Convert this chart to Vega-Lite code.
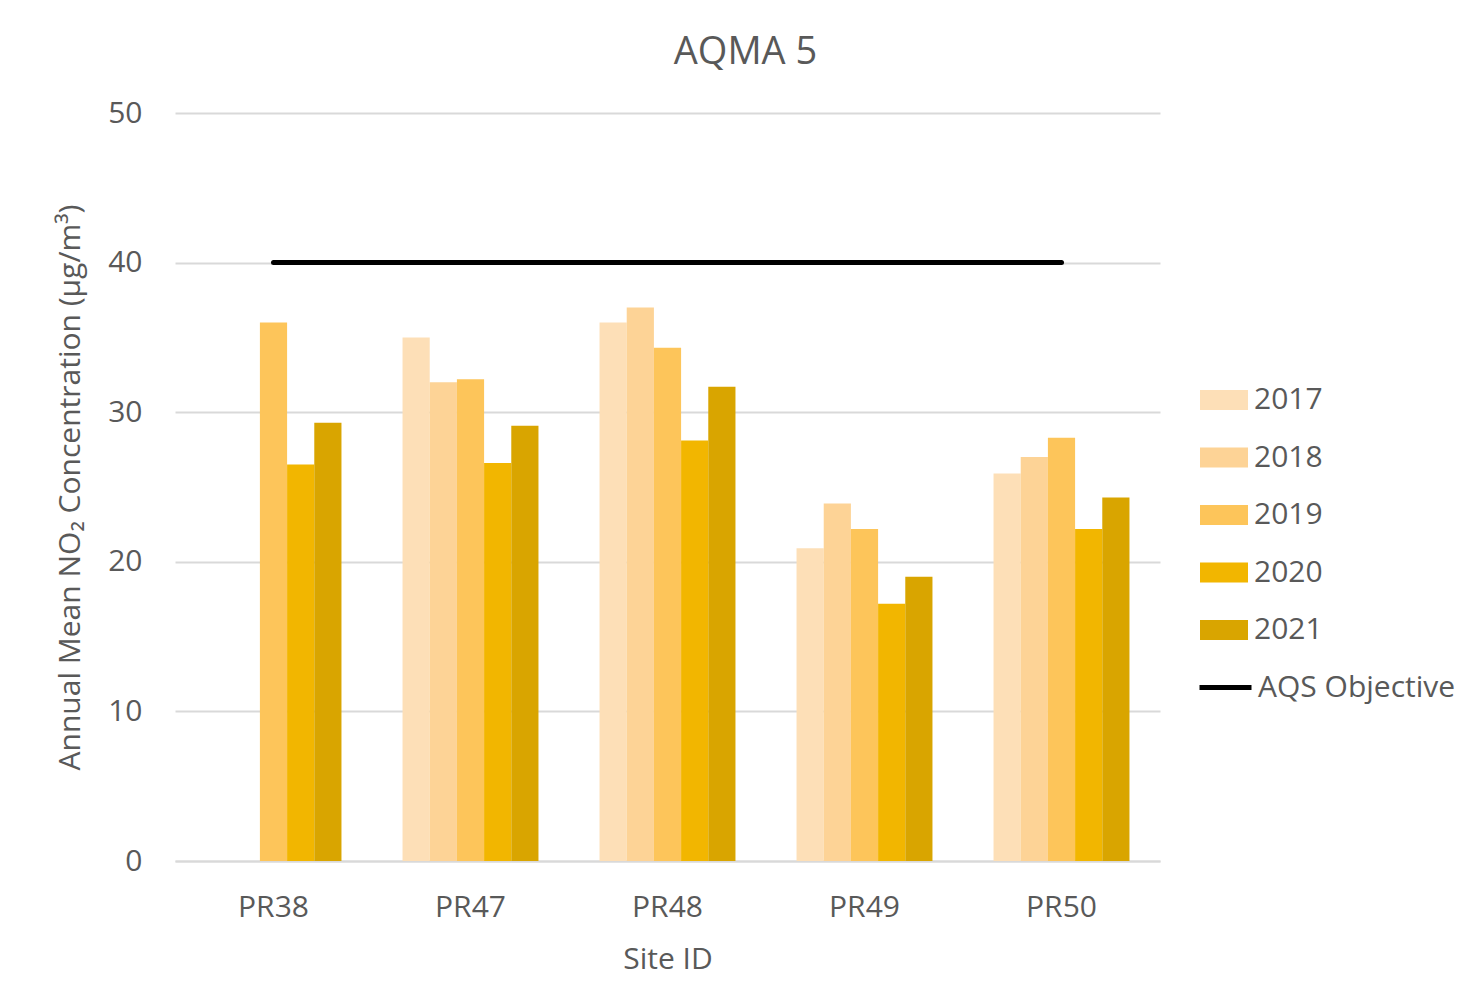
{
  "$schema": "https://vega.github.io/schema/vega-lite/v6.json",
  "width": 985,
  "height": 748,
  "autosize": {"type": "pad"},
  "padding": {"left": 55, "top": 34, "right": 0, "bottom": 20},
  "background": "white",
  "title": {
    "text": "AQMA 5",
    "fontSize": 38,
    "font": "Open Sans",
    "fontWeight": "normal",
    "color": "#595959",
    "anchor": "middle",
    "frame": "group",
    "dx": 78,
    "offset": 26
  },
  "config": {
    "font": "Open Sans",
    "view": {"stroke": null},
    "axis": {
      "labelFont": "Open Sans",
      "titleFont": "Open Sans",
      "labelFontSize": 30,
      "titleFontSize": 30,
      "labelColor": "#595959",
      "titleColor": "#595959",
      "titleFontWeight": "normal",
      "ticks": false
    },
    "legend": {
      "labelFont": "Open Sans",
      "labelFontSize": 30,
      "labelColor": "#595959",
      "labelLimit": 0
    }
  },
  "datasets": {
    "no2": [
      {"site": "PR38", "year": "2019", "value": 36.0},
      {"site": "PR38", "year": "2020", "value": 26.5},
      {"site": "PR38", "year": "2021", "value": 29.3},
      {"site": "PR47", "year": "2017", "value": 35.0},
      {"site": "PR47", "year": "2018", "value": 32.0},
      {"site": "PR47", "year": "2019", "value": 32.2},
      {"site": "PR47", "year": "2020", "value": 26.6},
      {"site": "PR47", "year": "2021", "value": 29.1},
      {"site": "PR48", "year": "2017", "value": 36.0},
      {"site": "PR48", "year": "2018", "value": 37.0},
      {"site": "PR48", "year": "2019", "value": 34.3},
      {"site": "PR48", "year": "2020", "value": 28.1},
      {"site": "PR48", "year": "2021", "value": 31.7},
      {"site": "PR49", "year": "2017", "value": 20.9},
      {"site": "PR49", "year": "2018", "value": 23.9},
      {"site": "PR49", "year": "2019", "value": 22.2},
      {"site": "PR49", "year": "2020", "value": 17.2},
      {"site": "PR49", "year": "2021", "value": 19.0},
      {"site": "PR50", "year": "2017", "value": 25.9},
      {"site": "PR50", "year": "2018", "value": 27.0},
      {"site": "PR50", "year": "2019", "value": 28.3},
      {"site": "PR50", "year": "2020", "value": 22.2},
      {"site": "PR50", "year": "2021", "value": 24.3}
    ],
    "objective": [
      {"site": "PR38", "value": 40},
      {"site": "PR47", "value": 40},
      {"site": "PR48", "value": 40},
      {"site": "PR49", "value": 40},
      {"site": "PR50", "value": 40}
    ]
  },
  "encoding": {
    "x": {
      "field": "site",
      "type": "nominal",
      "sort": ["PR38", "PR47", "PR48", "PR49", "PR50"],
      "scale": {"paddingInner": 0.31, "paddingOuter": 0.155},
      "axis": {
        "title": "Site ID",
        "labelAngle": 0,
        "labelPadding": 31,
        "titlePadding": 22,
        "domainColor": "#D9D9D9",
        "domainWidth": 2,
        "grid": false
      }
    },
    "y": {
      "field": "value",
      "type": "quantitative",
      "scale": {"domain": [0, 50], "nice": false},
      "axis": {
        "title": "Annual Mean NO₂ Concentration (µg/m³)",
        "values": [0, 10, 20, 30, 40, 50],
        "labelPadding": 33,
        "titlePadding": 22,
        "domain": false,
        "gridColor": "#D9D9D9",
        "gridWidth": 2
      }
    }
  },
  "layer": [
    {
      "data": {"name": "no2"},
      "mark": {"type": "bar"},
      "encoding": {
        "xOffset": {
          "field": "year",
          "type": "nominal",
          "scale": {"domain": ["2017", "2018", "2019", "2020", "2021"], "paddingInner": 0, "paddingOuter": 0}
        },
        "color": {
          "field": "year",
          "type": "nominal",
          "scale": {
            "domain": ["2017", "2018", "2019", "2020", "2021"],
            "range": ["#FDDFB7", "#FDD396", "#FDC55A", "#F2B600", "#D9A500"]
          },
          "legend": {
            "title": null,
            "orient": "none",
            "legendX": 1025,
            "legendY": 263,
            "symbolType": "M-1,-0.42H1V0.42H-1Z",
            "symbolSize": 2304,
            "symbolStrokeWidth": 0,
            "labelOffset": 6,
            "rowPadding": 18.5
          }
        }
      }
    },
    {
      "data": {"name": "objective"},
      "mark": {"type": "line", "strokeWidth": 5, "strokeCap": "round"},
      "encoding": {
        "stroke": {
          "datum": "AQS Objective",
          "type": "nominal",
          "scale": {"domain": ["AQS Objective"], "range": ["#000000"]},
          "legend": {
            "title": null,
            "orient": "none",
            "legendX": 1022,
            "legendY": 546,
            "symbolType": "stroke",
            "symbolSize": 2704,
            "symbolStrokeWidth": 5,
            "labelOffset": 4
          }
        }
      }
    }
  ]
}
